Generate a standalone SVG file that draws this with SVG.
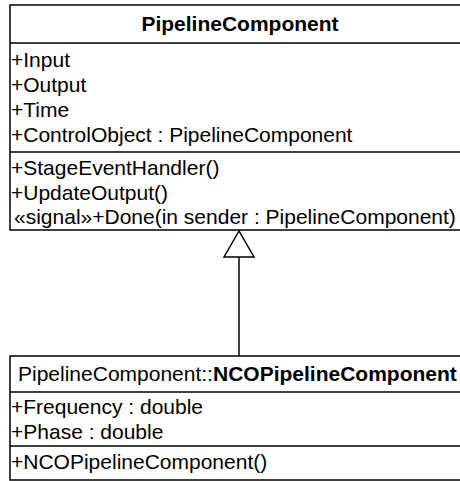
<svg xmlns="http://www.w3.org/2000/svg" width="460" height="481" viewBox="0 0 460 481">
<style>
rect.box{fill:#fff;stroke:#000;stroke-width:1.5}
line.div{stroke:#000;stroke-width:1.5}
text{font-family:"Liberation Sans",Arial,sans-serif;font-size:21px;fill:#000}
.b{font-weight:bold}
</style>
<rect width="460" height="481" fill="#fff"/>
<g id="connectors">
<line x1="239" y1="257" x2="239" y2="356" stroke="#000" stroke-width="1.5"/>
<polygon points="239,231 224,257 254,257" fill="#fff" stroke="#000" stroke-width="1.5"/>
</g>
<g id="PipelineComponent">
<rect class="box" x="10" y="5" width="460" height="225"/>
<text class="b" x="240" y="31" text-anchor="middle">PipelineComponent</text>
<line class="div" x1="10" y1="43" x2="470" y2="43"/>
<text x="11" y="67">+Input</text>
<text x="11" y="92">+Output</text>
<text x="11" y="117">+Time</text>
<text x="11" y="142">+ControlObject : PipelineComponent</text>
<line class="div" x1="10" y1="152" x2="470" y2="152"/>
<text x="11" y="175">+StageEventHandler()</text>
<text x="11" y="200">+UpdateOutput()</text>
<text x="14" y="224">«signal»+Done(in sender : PipelineComponent)</text>
</g>
<g id="NCOPipelineComponent">
<rect class="box" x="10" y="356" width="460" height="124"/>
<text x="18" y="381">PipelineComponent::<tspan class="b">NCOPipelineComponent</tspan></text>
<line class="div" x1="10" y1="392" x2="470" y2="392"/>
<text x="11" y="414">+Frequency : double</text>
<text x="11" y="439">+Phase : double</text>
<line class="div" x1="10" y1="446" x2="470" y2="446"/>
<text x="11" y="469">+NCOPipelineComponent()</text>
</g>
</svg>
